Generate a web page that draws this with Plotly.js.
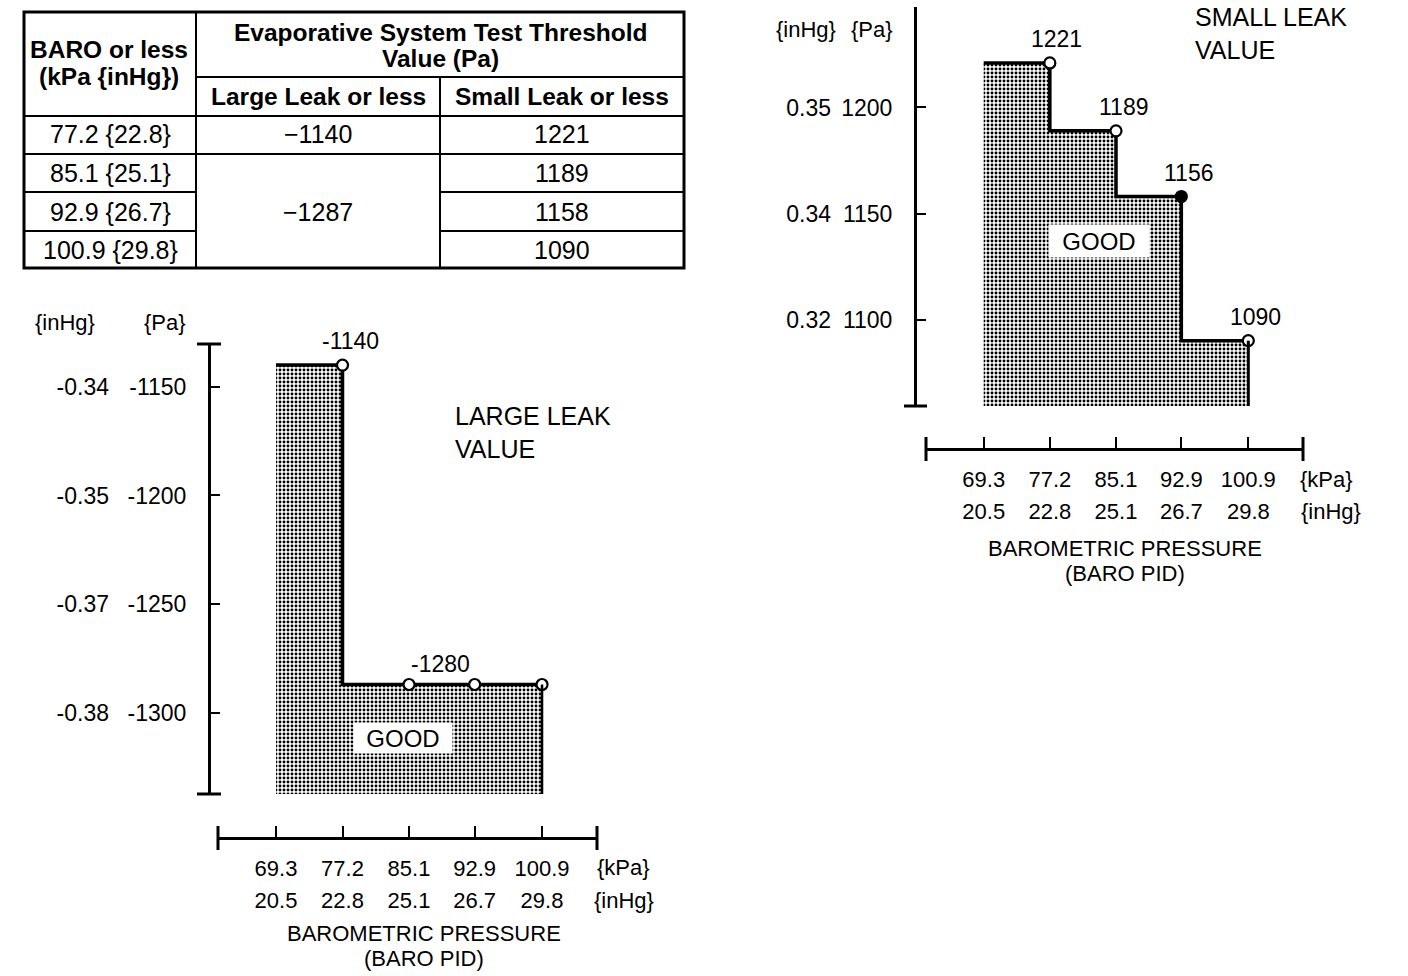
<!DOCTYPE html>
<html>
<head>
<meta charset="utf-8">
<script src="https://cdn.plot.ly/plotly-3.0.1.min.js"></script>
<style>
html, body { margin: 0; padding: 0; background: #ffffff; }
#chart { width: 1408px; height: 976px; }
</style>
</head>
<body>
<div id="chart"></div>
<script>
// ---------------- data ----------------
const baroKpa = [69.3, 77.2, 85.1, 92.9, 100.9];
const baroInHg = ['20.5', '22.8', '25.1', '26.7', '29.8'];
const largeLeakPa = [-1140, -1287, -1287, -1287];     // threshold for BARO <= 77.2 .. 100.9
const smallLeakPa = [1221, 1189, 1158, 1090];         // threshold for BARO <= 77.2 .. 100.9
const largeLabels = ['-1140', '-1280'];
const smallLabels = ['1221', '1189', '1156', '1090'];
const largeTickPa = [-1150, -1200, -1250, -1300];
const largeTickInHg = ['-0.34', '-0.35', '-0.37', '-0.38'];
const smallTickPa = [1100, 1150, 1200];
const smallTickInHg = ['0.32', '0.34', '0.35'];
const tableHeaderBaro = ['BARO or less', '(kPa {inHg})'];
const tableHeaderTop = ['Evaporative System Test Threshold', 'Value (Pa)'];
const tableHeaderCols = ['Large Leak or less', 'Small Leak or less'];
const tableLargeMerged = [largeLeakPa[0], largeLeakPa[1]];

// ---------------- helpers ----------------
const W = 1408, H = 976;
const px = x => x / W;
const py = y => 1 - y / H;
const FONT = '"Liberation Sans", Arial, Helvetica, sans-serif';
const BLACK = '#000000';
const leftYRange = [-1337.4, -1130.3];
const rightYRange = [1059.2, 1247.4];
const xRange = [62.41, 107.43];

const stepX = baroKpa.slice();
const leftStepY = [largeLeakPa[0]].concat(largeLeakPa);
const rightStepY = [smallLeakPa[0]].concat(smallLeakPa);

const pattern = { shape: '.', size: 4, solidity: 0.42, fgcolor: '#000000', bgcolor: '#ffffff', fillmode: 'replace' };

function stepTraces(xa, ya, xIn, yIn, stepY, pts, bottom, fills) {
  return [
    { x: stepX, y: stepX.map(() => bottom), xaxis: xa, yaxis: ya, mode: 'lines',
      line: { width: 0, shape: 'vh' }, hoverinfo: 'skip', showlegend: false },
    { x: stepX, y: stepY, xaxis: xa, yaxis: ya, mode: 'lines', fill: 'tonexty',
      fillcolor: '#9a9a9a', fillpattern: pattern,
      line: { color: BLACK, width: 3.5, shape: 'vh' }, hoverinfo: 'skip', showlegend: false },
    { x: baroKpa.slice(1), y: pts, xaxis: xa, yaxis: ya, mode: 'markers', cliponaxis: false,
      marker: { symbol: 'circle', size: 11, color: fills, line: { color: BLACK, width: 2.2 } },
      hoverinfo: 'skip', showlegend: false },
    // invisible carriers so the secondary ({inHg}) axes are drawn
    { x: baroKpa.slice(1), y: pts, xaxis: xIn, yaxis: ya, mode: 'markers',
      marker: { opacity: 0 }, hoverinfo: 'skip', showlegend: false },
    { x: baroKpa.slice(1), y: pts, xaxis: xa, yaxis: yIn, mode: 'markers',
      marker: { opacity: 0 }, hoverinfo: 'skip', showlegend: false }
  ];
}

const data = []
  .concat(stepTraces('x', 'y', 'x3', 'y3', leftStepY, largeLeakPa, leftYRange[0], ['#fff', '#fff', '#fff', '#fff']))
  .concat(stepTraces('x2', 'y2', 'x4', 'y4', rightStepY, smallLeakPa, rightYRange[0], ['#fff', '#fff', '#000', '#fff']));

const base = { showgrid: false, zeroline: false, fixedrange: true, tickcolor: BLACK, linecolor: BLACK };
const xFont = { family: FONT, size: 22, color: BLACK };
const yFont = { family: FONT, size: 23, color: BLACK };

function xAxisPair(dom, posPx, overlay) {
  return [
    Object.assign({}, base, { domain: dom, range: xRange, anchor: 'free', position: py(posPx), tickfont: xFont,
      tickvals: baroKpa, ticktext: baroKpa.map(v => v.toFixed(1)), ticks: 'inside', ticklen: 11, tickwidth: 2,
      showline: true, linewidth: 3, ticklabelstandoff: 10 }),
    Object.assign({}, base, { overlaying: overlay, domain: dom, range: xRange, anchor: 'free', position: py(posPx), tickfont: xFont,
      tickvals: baroKpa, ticktext: baroInHg, ticks: '', showline: false, ticklabelstandoff: 47 })
  ];
}
function yAxisPair(dom, range, posPx, tv, tIn, overlay, standIn) {
  return [
    Object.assign({}, base, { domain: dom, range: range, anchor: 'free', position: px(posPx), side: 'left', tickfont: yFont,
      tickvals: tv, ticktext: tv.map(String), ticks: 'inside', ticklen: 9, tickwidth: 2,
      showline: true, linewidth: 3, ticklabelstandoff: 17 }),
    Object.assign({}, base, { overlaying: overlay, domain: dom, range: range, anchor: 'free', position: px(posPx), side: 'left', tickfont: yFont,
      tickvals: tv, ticktext: tIn, ticks: '', showline: false, ticklabelstandoff: standIn })
  ];
}
const [xL, xLin] = xAxisPair([px(218), px(597)], 838, 'x');
const [xR, xRin] = xAxisPair([px(926), px(1303)], 449, 'x2');
const [yL, yLin] = yAxisPair([py(794), py(344)], leftYRange, 209, largeTickPa, largeTickInHg, 'y', 100);
const [yR, yRin] = yAxisPair([py(406), py(7)], rightYRange, 915, smallTickPa, smallTickInHg, 'y2', 84);

// ---------------- shapes ----------------
const shapes = [];
function pline(x0, y0, x1, y1, w) {
  shapes.push({ type: 'line', xref: 'paper', yref: 'paper', x0: px(x0), x1: px(x1), y0: py(y0), y1: py(y1),
    line: { color: BLACK, width: w } });
}
// axis end caps
pline(197, 344, 221, 344, 3); pline(197, 794, 221, 794, 3);
pline(904, 406, 927, 406, 3);
pline(218, 826, 218, 850, 3); pline(597, 826, 597, 850, 3);
pline(926, 437, 926, 461, 3); pline(1303, 437, 1303, 461, 3);
// right edge of the filled area
shapes.push({ type: 'line', xref: 'x', yref: 'y', x0: baroKpa[4], x1: baroKpa[4], y0: largeLeakPa[3], y1: leftYRange[0], line: { color: BLACK, width: 2.5 } });
shapes.push({ type: 'line', xref: 'x2', yref: 'y2', x0: baroKpa[4], x1: baroKpa[4], y0: smallLeakPa[3], y1: rightYRange[0], line: { color: BLACK, width: 3 } });
// table grid
shapes.push({ type: 'rect', xref: 'paper', yref: 'paper', x0: px(24), x1: px(684), y0: py(268), y1: py(12), line: { color: BLACK, width: 3 } });
pline(196, 12, 196, 268, 2);
pline(440, 77, 440, 268, 2);
pline(196, 77, 684, 77, 2);
pline(24, 116, 684, 116, 2);
pline(24, 154, 684, 154, 2);
pline(24, 192, 196, 192, 2); pline(440, 192, 684, 192, 2);
pline(24, 231, 196, 231, 2); pline(440, 231, 684, 231, 2);

// ---------------- annotations ----------------
const ann = [];
function ptext(text, x, y, size, opts) {
  ann.push(Object.assign({ text: text, xref: 'paper', yref: 'paper', x: px(x), y: py(y), showarrow: false,
    xanchor: 'center', yanchor: 'middle', font: { family: FONT, size: size, color: BLACK } }, opts || {}));
}
// table text
ptext('<b>' + tableHeaderBaro[0] + '</b>', 109, 49, 24.5);
ptext('<b>' + tableHeaderBaro[1] + '</b>', 109, 76, 24.5);
ptext('<b>' + tableHeaderTop[0] + '</b>', 440, 32, 24.5);
ptext('<b>' + tableHeaderTop[1] + '</b>', 440, 58, 24.5);
ptext('<b>' + tableHeaderCols[0] + '</b>', 318, 96, 24.5);
ptext('<b>' + tableHeaderCols[1] + '</b>', 562, 96, 24.5);
const rowY = [134, 173, 212, 250];
for (let i = 0; i < 4; i++) {
  ptext(baroKpa[i + 1].toFixed(1) + ' {' + baroInHg[i + 1] + '}', 110, rowY[i], 25);
  ptext(String(smallLeakPa[i]), 562, rowY[i], 25);
}
ptext(String(tableLargeMerged[0]).replace('-', '\u2212'), 318, rowY[0], 25);
ptext(String(tableLargeMerged[1]).replace('-', '\u2212'), 318, 212, 25);

// left chart texts
ptext('{inHg}', 65, 322, 22); ptext('{Pa}', 165, 322, 22);
ptext('{kPa}', 623, 867, 22); ptext('{inHg}', 624, 900, 22);
ptext('BAROMETRIC PRESSURE', 424, 933, 22); ptext('(BARO PID)', 424, 958, 22);
ptext('LARGE LEAK<br>VALUE', 453, 433, 25, { xanchor: 'left', align: 'left' });
ptext('GOOD', 403, 738, 24, { bgcolor: '#ffffff', width: 96, height: 28 });
// right chart texts
ptext('{inHg}', 806, 30, 22); ptext('{Pa}', 872, 30, 22);
ptext('{kPa}', 1326, 479, 22); ptext('{inHg}', 1331, 511, 22);
ptext('BAROMETRIC PRESSURE', 1125, 548, 22); ptext('(BARO PID)', 1125, 573, 22);
ptext('SMALL LEAK<br>VALUE', 1193, 33, 25, { xanchor: 'left', align: 'left' });
ptext('GOOD', 1099, 241, 24, { bgcolor: '#ffffff', width: 98, height: 30 });

// data point labels
const lblFont = { family: FONT, size: 23, color: BLACK };
ann.push({ text: largeLabels[0], xref: 'x', yref: 'y', x: baroKpa[1], y: largeLeakPa[0], xshift: 8, yshift: 24,
  showarrow: false, font: lblFont });
ann.push({ text: largeLabels[1], xref: 'x', yref: 'y', x: baroKpa[2], y: largeLeakPa[1], xshift: 31, yshift: 20,
  showarrow: false, font: lblFont });
for (let i = 0; i < 4; i++) {
  ann.push({ text: smallLabels[i], xref: 'x2', yref: 'y2', x: baroKpa[i + 1], y: smallLeakPa[i], xshift: 7, yshift: 24,
    showarrow: false, font: lblFont });
}

const layout = {
  width: W, height: H, autosize: false,
  margin: { l: 0, r: 0, t: 0, b: 0, pad: 0 },
  paper_bgcolor: '#ffffff', plot_bgcolor: 'rgba(0,0,0,0)',
  showlegend: false,
  font: { family: FONT, color: BLACK },
  xaxis: xL, xaxis3: xLin, yaxis: yL, yaxis3: yLin,
  xaxis2: xR, xaxis4: xRin, yaxis2: yR, yaxis4: yRin,
  shapes: shapes,
  annotations: ann
};

Plotly.newPlot('chart', data, layout, { staticPlot: true, displayModeBar: false });
</script>
</body>
</html>
